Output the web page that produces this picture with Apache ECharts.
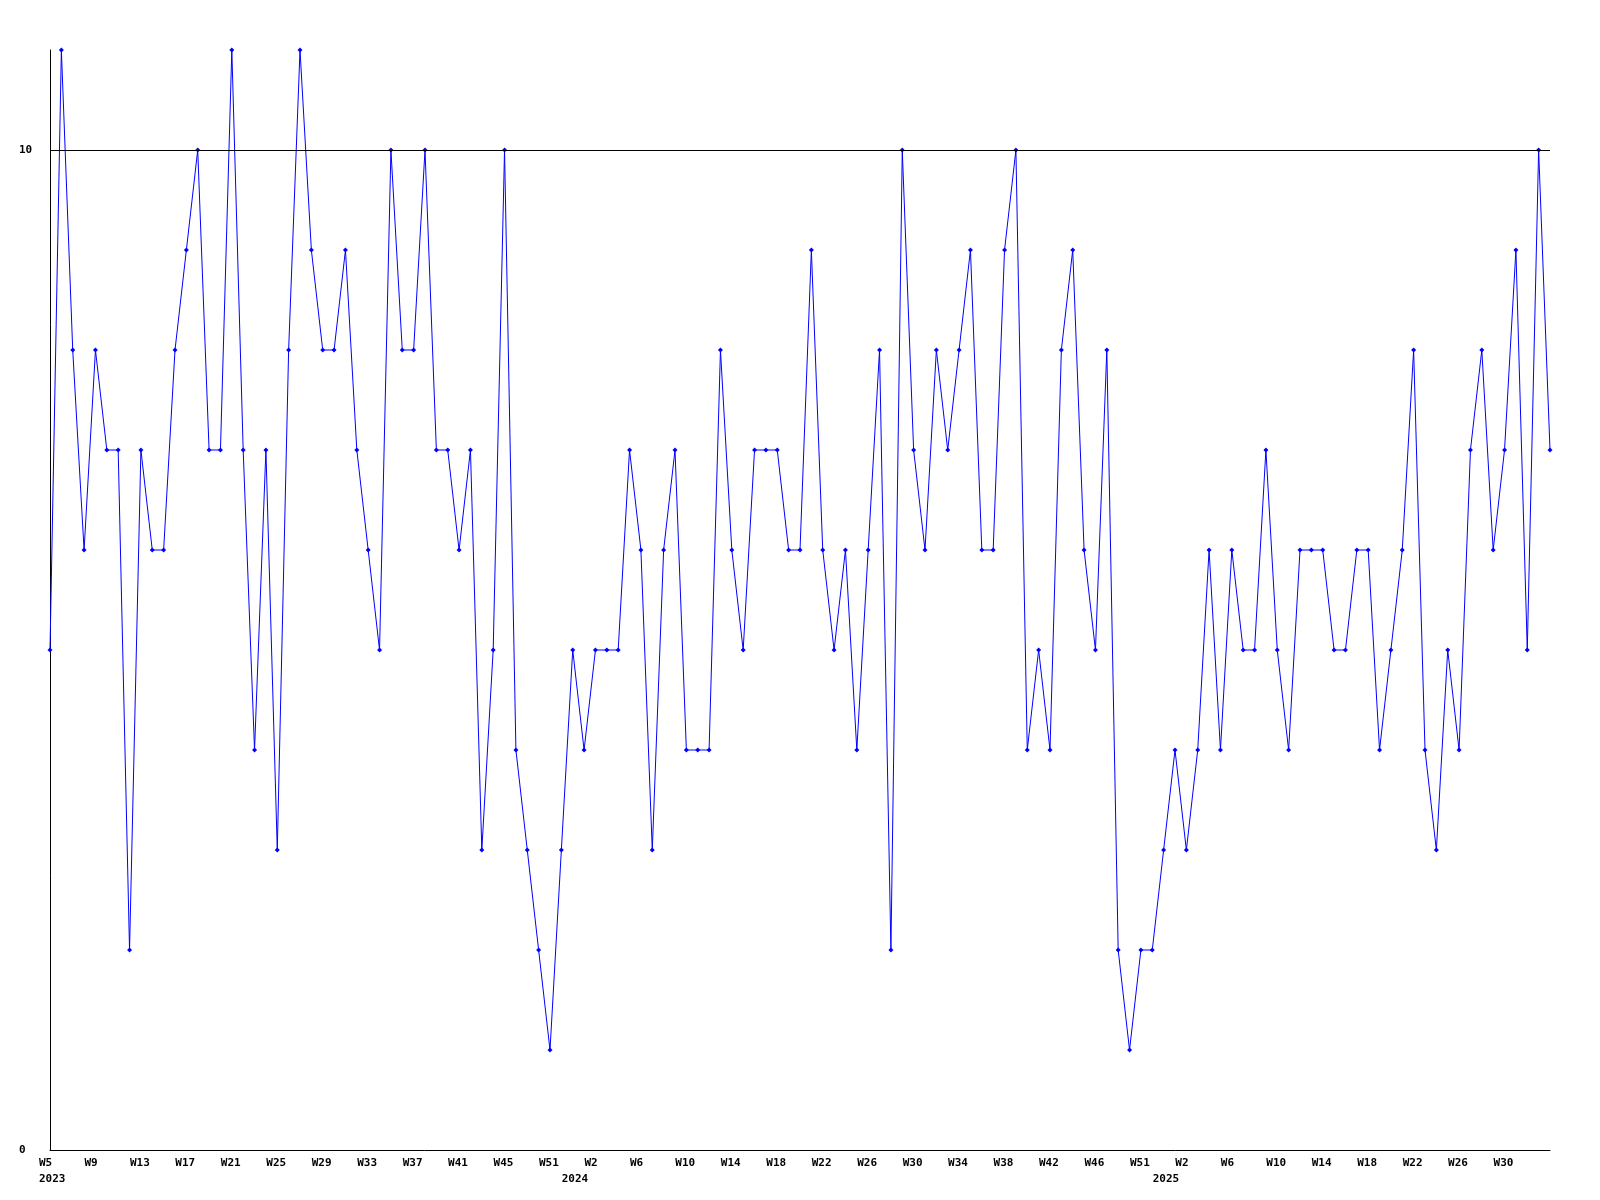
<!DOCTYPE html>
<html>
<head>
<meta charset="utf-8">
<script src="https://cdn.jsdelivr.net/npm/echarts@6/dist/echarts.min.js"></script>
<style>
html,body{margin:0;padding:0;background:#fff;}
#chart{width:1600px;height:1200px;}
</style>
</head>
<body>
<div id="chart"></div>
<script>
// Week labels for each point (only every 4th is shown, plus the year start)
const weeks = [
  'W5','W6','W7','W8','W9','W10','W11','W12','W13','W14','W15','W16','W17','W18','W19','W20',
  'W21','W22','W23','W24','W25','W26','W27','W28','W29','W30','W31','W32','W33','W34','W35','W36',
  'W37','W38','W39','W40','W41','W42','W43','W44','W45','W46','W48','W50','W51','W52',
  'W0','W1','W2','W3','W4','W5','W6','W7','W8','W9','W10','W11','W12','W13','W14','W15','W16','W17',
  'W18','W19','W20','W21','W22','W23','W24','W25','W26','W27','W28','W29','W30','W31','W32','W33',
  'W34','W35','W36','W37','W38','W39','W40','W41','W42','W43','W44','W45','W46','W47','W49','W50',
  'W51','W52',
  'W0','W1','W2','W3','W4','W5','W6','W7','W8','W9','W10','W11','W12','W13','W14','W15','W16','W17',
  'W18','W19','W20','W21','W22','W23','W24','W25','W26','W27','W28','W29','W30','W31','W32','W33','W34'
];
const years = [].concat(
  Array(46).fill('2023'),
  Array(52).fill('2024'),
  Array(35).fill('2025')
);
const values = [
  5,11,8,6,8,7,7,2,7,6,6,8,9,10,7,7,11,7,4,7,3,8,11,
  9,8,8,9,7,6,5,10,8,8,10,7,7,6,7,3,5,10,4,3,2,1,3,
  5,4,5,5,5,7,6,3,6,7,4,4,4,8,6,5,7,7,7,6,6,9,
  6,5,6,4,6,8,2,10,7,6,8,7,8,9,6,6,9,10,4,5,4,8,9,
  6,5,8,2,1,2,2,3,4,3,4,6,4,6,5,5,7,5,4,6,6,6,
  5,5,6,6,4,5,6,8,4,3,5,4,7,8,6,7,9,5,10,7
];
const yTicks = [0, 10];

const categories = weeks.map((w, i) => w + '|' + years[i]);
const lastIndex = values.length - 1;
function isYearStart(i) { return i === 0 || years[i] !== years[i - 1]; }
function showWeek(i) { return i % 4 === 0 && i !== lastIndex; }

const font = '"DejaVu Sans Mono", monospace';
const chart = echarts.init(document.getElementById('chart'), null, {renderer: 'canvas'});
chart.setOption({
  backgroundColor: '#ffffff',
  animation: false,
  grid: {left: 50, right: 50, top: 50, bottom: 50, containLabel: false},
  xAxis: {
    type: 'category',
    data: categories,
    boundaryGap: false,
    axisLine: {show: true, lineStyle: {color: '#000', width: 1}},
    axisTick: {show: false},
    splitLine: {show: false},
    axisLabel: {
      interval: (i) => showWeek(i) || isYearStart(i),
      formatter: (v, i) => (showWeek(i) ? weeks[i] : '') + '\n' + (isYearStart(i) ? years[i] : ''),
      align: 'left',
      padding: [0, 0, 0, -11],
      margin: 5,
      color: '#000',
      fontFamily: font,
      fontWeight: 'bold',
      fontSize: 11,
      lineHeight: 16
    }
  },
  yAxis: {
    type: 'value',
    min: 0,
    max: 11,
    interval: 10,
    axisLine: {show: true, lineStyle: {color: '#000', width: 1}},
    axisTick: {show: false},
    splitLine: {show: false},
    axisLabel: {
      formatter: (v) => (yTicks.indexOf(v) >= 0 ? String(v) : ''),
      align: 'left',
      margin: 31,
      color: '#000',
      fontFamily: font,
      fontWeight: 'bold',
      fontSize: 11
    }
  },
  series: [{
    type: 'line',
    data: values,
    color: '#0000ff',
    lineStyle: {color: '#0000ff', width: 1},
    symbol: 'diamond',
    symbolSize: 5,
    showSymbol: true,
    itemStyle: {color: '#0000ff'},
    markLine: {
      silent: true,
      symbol: 'none',
      label: {show: false},
      lineStyle: {color: '#000', width: 1, type: 'solid'},
      data: [{yAxis: yTicks[1]}]
    }
  }]
});
</script>
</body>
</html>
